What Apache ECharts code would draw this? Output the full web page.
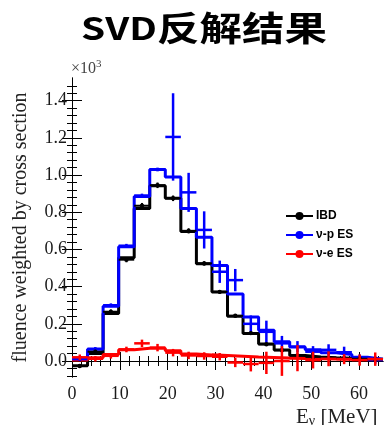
<!DOCTYPE html>
<html>
<head>
<meta charset="utf-8">
<script src="https://cdn.jsdelivr.net/npm/echarts@6/dist/echarts.min.js"></script>
<style>
  html, body { margin: 0; padding: 0; background: #fff; }
  #chart { width: 384px; height: 425px; }
</style>
</head>
<body>
<div id="chart"></div>
<script>
// Energy binning (MeV), 20 bins
const binEdges = [0, 3.25, 6.5, 9.75, 13, 16.25, 19.5, 22.75, 26, 29.25, 32.5,
                  35.75, 39, 42.25, 45.5, 48.75, 52, 55.25, 58.5, 61.75, 65];

// IBD: true spectrum (step) and SVD-unfolded points
const ibdTrue   = [-0.025, 0.041, 0.255, 0.555, 0.820, 0.943, 0.875, 0.696, 0.523, 0.371,
                   0.241, 0.148, 0.091, 0.059, 0.030, 0.022, 0.018, 0.015, 0.012, 0.010];
const ibdUnfold = [-0.027, 0.050, 0.265, 0.545, 0.835, 0.945, 0.875, 0.700, 0.525, 0.372,
                   0.243, 0.150, 0.090, 0.058, 0.030, 0.022, 0.018, 0.015, 0.012, 0.010];
const ibdErr    = [0.008, 0.010, 0.012, 0.014, 0.015, 0.015, 0.015, 0.014, 0.012, 0.010,
                   0.009, 0.008, 0.007, 0.006, 0.005, 0.005, 0.005, 0.005, 0.005, 0.005];

// nu-p ES: true spectrum (step) and SVD-unfolded points
const vpTrue    = [0.010, 0.063, 0.295, 0.615, 0.885, 1.030, 0.990, 0.820, 0.665, 0.514,
                   0.360, 0.237, 0.165, 0.103, 0.075, 0.060, 0.045, 0.035, 0.020, 0.010];
const vpUnfold  = [0.010, 0.065, 0.300, 0.620, 0.890, 1.030, 1.205, 0.907, 0.705, 0.480,
                   0.435, 0.200, 0.157, 0.095, 0.077, 0.050, 0.060, 0.047, 0.015, 0.005];
const vpErr     = [0.010, 0.010, 0.010, 0.010, 0.010, 0.010, 0.235, 0.105, 0.100, 0.060,
                   0.060, 0.045, 0.060, 0.040, 0.030, 0.030, 0.030, 0.030, 0.020, 0.020];

// nu-e ES: true spectrum (step) and SVD-unfolded points
const veTrue    = [0.005, 0.018, 0.035, 0.060, 0.068, 0.068, 0.055, 0.038, 0.033, 0.030,
                   0.026, 0.022, 0.019, 0.016, 0.014, 0.012, 0.011, 0.010, 0.009, 0.008];
const veUnfold  = [0.020, 0.012, 0.028, 0.062, 0.095, 0.072, 0.045, 0.030, 0.027, 0.023,
                   -0.008, -0.016, -0.010, 0.000, 0.015, 0.005, 0.012, 0.010, 0.005, 0.010];
const veErr     = [0.015, 0.015, 0.015, 0.015, 0.020, 0.020, 0.020, 0.020, 0.020, 0.020,
                   0.025, 0.040, 0.060, 0.080, 0.070, 0.045, 0.040, 0.027, 0.030, 0.036];

// Axis ticks
const xMajorTicks = [0, 10, 20, 30, 40, 50, 60];
const xMinorTicks = [2, 4, 6, 8, 12, 14, 16, 18, 22, 24, 26, 28, 32, 34, 36, 38,
                     42, 44, 46, 48, 52, 54, 56, 58, 62, 64];
const yMajorTicks = [0, 0.2, 0.4, 0.6, 0.8, 1.0, 1.2, 1.4];
const yMinorTicks = [-0.08, -0.04, 0.04, 0.08, 0.12, 0.16, 0.24, 0.28, 0.32, 0.36,
                     0.44, 0.48, 0.52, 0.56, 0.64, 0.68, 0.72, 0.76, 0.84, 0.88, 0.92, 0.96,
                     1.04, 1.08, 1.12, 1.16, 1.24, 1.28, 1.32, 1.36, 1.44, 1.48];

const legendNames = ['IBD', 'ν-p ES', 'ν-e ES'];
const colors = { ibd: '#000000', vp: '#0000ff', ve: '#ff0000' };

const X_MIN = 0, X_MAX = 65, Y_MIN = -0.086, Y_MAX = 1.522;
const serif = "'Liberation Serif', 'DejaVu Serif', serif";
const plotRect = { left: 72, right: 1, top: 78, bottom: 48, outerBoundsMode: 'none', containLabel: false };

function stepData(vals) {
  return binEdges.map((e, i) => [e, vals[Math.min(i, vals.length - 1)]]);
}

function stepSeries(name, vals, color) {
  return {
    type: 'line', name: name, step: 'end',
    data: stepData(vals),
    symbol: 'circle', symbolSize: 5, showSymbol: false,
    itemStyle: { color: color },
    lineStyle: { color: color, width: 3 },
    silent: true, z: 3
  };
}

function crossSeries(name, vals, errs, color, lw, dotR) {
  return {
    type: 'custom', name: name, z: 4,
    data: vals.map((v, i) => [binEdges[i], binEdges[i + 1], v, errs[i]]),
    encode: { x: [0, 1], y: 2 },
    renderItem: function (params, api) {
      const lo = api.value(0), hi = api.value(1), v = api.value(2), e = api.value(3);
      const c = (lo + hi) / 2;
      const pL = api.coord([lo, v]), pR = api.coord([hi, v]);
      const pT = api.coord([c, v + e]), pB = api.coord([c, v - e]);
      const st = { stroke: color, lineWidth: lw };
      const children = [
        { type: 'line', shape: { x1: pL[0], y1: pL[1], x2: pR[0], y2: pR[1] }, style: st },
        { type: 'line', shape: { x1: pT[0], y1: pT[1], x2: pB[0], y2: pB[1] }, style: st }
      ];
      if (dotR) {
        const p = api.coord([c, v]);
        children.push({ type: 'circle', shape: { cx: p[0], cy: p[1], r: dotR }, style: { fill: color } });
      }
      return { type: 'group', children: children };
    },
    silent: true
  };
}

// Frame axes: grid 0 carries major ticks (and labels), grid 1 the minor ticks
function tickAxisX(grid, pos, ticks, len, showLine, showLabel) {
  return {
    type: 'value', gridIndex: grid, position: pos, min: X_MIN, max: X_MAX,
    axisLine: { show: showLine, lineStyle: { color: '#000', width: 1 } },
    axisTick: { show: true, inside: true, length: len, customValues: ticks,
                lineStyle: { color: '#000', width: 1 } },
    axisLabel: showLabel ? {
      show: true, customValues: ticks, margin: 8,
      fontFamily: serif, fontSize: 18, color: '#1a1a1a'
    } : { show: false },
    splitLine: { show: false }
  };
}

function tickAxisY(grid, pos, ticks, len, showLine, showLabel) {
  return {
    type: 'value', gridIndex: grid, position: pos, min: Y_MIN, max: Y_MAX,
    axisLine: { show: showLine, lineStyle: { color: '#000', width: 1 } },
    axisTick: { show: true, inside: true, length: len, customValues: ticks,
                lineStyle: { color: '#000', width: 1 } },
    axisLabel: showLabel ? {
      show: true, customValues: ticks, margin: 5,
      fontFamily: serif, fontSize: 18, color: '#1a1a1a',
      formatter: v => v.toFixed(1)
    } : { show: false },
    splitLine: { show: false }
  };
}

const yMain = tickAxisY(0, 'left', yMajorTicks, 10, true, true);
yMain.name = 'fluence weighted by cross section';
yMain.nameLocation = 'middle';
yMain.nameGap = 41;
yMain.nameTextStyle = { fontFamily: serif, fontSize: 20, color: '#222' };

const chart = echarts.init(document.getElementById('chart'), null, { renderer: 'canvas' });
chart.setOption({
  animation: false,
  backgroundColor: '#fff',
  grid: [Object.assign({}, plotRect), Object.assign({}, plotRect)],
  xAxis: [
    tickAxisX(0, 'bottom', xMajorTicks, 9, true, true),
    tickAxisX(0, 'top', xMajorTicks, 9, true, false),
    tickAxisX(1, 'bottom', xMinorTicks, 5, false, false),
    tickAxisX(1, 'top', xMinorTicks, 5, false, false)
  ],
  yAxis: [
    yMain,
    tickAxisY(0, 'right', yMajorTicks, 10, true, false),
    tickAxisY(1, 'left', yMinorTicks, 5, false, false),
    tickAxisY(1, 'right', yMinorTicks, 5, false, false)
  ],
  legend: {
    data: legendNames,
    orient: 'vertical', left: 280, top: 205,
    itemWidth: 27, itemHeight: 10, itemGap: 7,
    textStyle: { fontFamily: "'Liberation Sans', Arial, sans-serif", fontWeight: 'bold',
                 fontSize: 12, color: '#000', padding: [0, 0, 0, -2] },
    selectedMode: false
  },
  graphic: [
    {
      type: 'text', x: 204, y: 28, scaleX: 1.25,
      style: {
        text: '{a|SVD}{b|反解结果}',
        align: 'center', verticalAlign: 'middle',
        rich: {
          a: { fontFamily: "'Noto Sans CJK SC'", fontWeight: 'bold', fontSize: 31, fill: '#000' },
          b: { fontFamily: "'Noto Sans CJK SC'", fontWeight: 'bold', fontSize: 34, fill: '#000' }
        }
      }
    },
    {
      type: 'text', left: 71, top: 59,
      style: {
        text: '×10{s|3}',
        font: "16px 'Liberation Serif'", fill: '#444',
        rich: { s: { fontFamily: serif, fontSize: 11, fill: '#444', verticalAlign: 'top', padding: [0, 0, 9, 0] } }
      }
    },
    {
      type: 'text', x: 296, y: 417,
      style: {
        text: 'E{s|ν} [MeV]',
        verticalAlign: 'middle', fill: '#222',
        font: "21px 'Liberation Serif'",
        rich: { s: { fontFamily: serif, fontSize: 14, fill: '#222', padding: [9, 0, 0, 0] } }
      }
    }
  ],
  series: [
    stepSeries(legendNames[0], ibdTrue, colors.ibd),
    stepSeries(legendNames[1], vpTrue, colors.vp),
    stepSeries(legendNames[2], veTrue, colors.ve),
    crossSeries('vp-unfolded', vpUnfold, vpErr, colors.vp, 2.5, 0),
    crossSeries('ibd-unfolded', ibdUnfold, ibdErr, colors.ibd, 2, 2.2),
    crossSeries('ve-unfolded', veUnfold, veErr, colors.ve, 2.5, 0)
  ]
});
</script>
</body>
</html>
